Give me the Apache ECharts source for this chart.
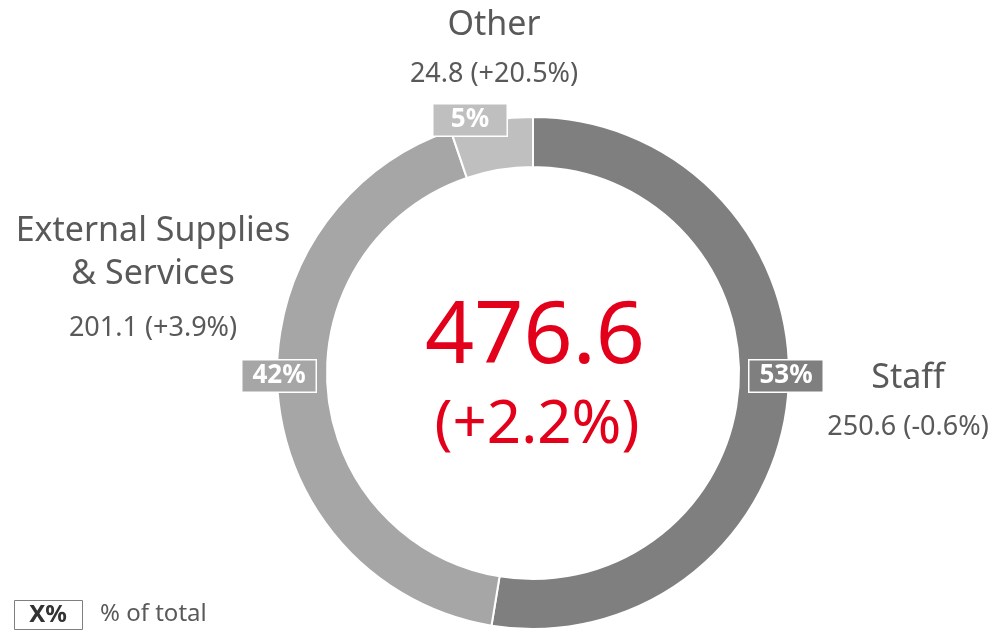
<!DOCTYPE html>
<html>
<head>
<meta charset="utf-8">
<script src="https://cdn.jsdelivr.net/npm/echarts@6/dist/echarts.min.js"></script>
<style>
  html, body { margin: 0; padding: 0; background: #fff; }
  #chart { width: 997px; height: 631px; }
</style>
</head>
<body>
<div id="chart"></div>
<script>
const categories = ['Staff', 'External Supplies\n& Services', 'Other']
const values = [250.6, 201.1, 24.8]
const changes = ['-0.6%', '+3.9%', '+20.5%']
const colors = ['#7f7f7f', '#a6a6a6', '#bfbfbf']
const total = '476.6'
const totalChange = '+2.2%'

const font = 'Noto Sans'
const textGrey = '#595959'
const red = '#e2001a'

// where the % boxes and the name blocks sit
const boxPos = [[786, 376], [279, 376], [470, 120]]
const namePos = [[908, 378], [153, 253], [494, 25]]
const valuePos = [[908, 427], [153, 328], [494, 74]]

const chart = echarts.init(document.getElementById('chart'))

const graphics = []
categories.forEach((name, i) => {
  graphics.push({
    type: 'text',
    x: namePos[i][0],
    y: namePos[i][1],
    style: {
      text: name,
      fill: textGrey,
      font: '34px "' + font + '"',
      align: 'center',
      verticalAlign: 'middle',
      lineHeight: 43
    }
  })
  graphics.push({
    type: 'text',
    x: valuePos[i][0],
    y: valuePos[i][1],
    style: {
      text: values[i].toFixed(1) + ' (' + changes[i] + ')',
      fill: textGrey,
      font: '27px "' + font + '"',
      align: 'center',
      verticalAlign: 'middle'
    }
  })
})

graphics.push(
  {
    type: 'text', x: 535, y: 338,
    style: { text: total, fill: red, font: '86px "' + font + '"', align: 'center', verticalAlign: 'middle' }
  },
  {
    type: 'text', x: 537, y: 426,
    style: { text: '(' + totalChange + ')', fill: red, font: '60px "' + font + '"', align: 'center', verticalAlign: 'middle' }
  },
  {
    type: 'rect',
    shape: { x: 14.5, y: 600.5, width: 68, height: 29 },
    style: { fill: '#fff', stroke: '#7f7f7f', lineWidth: 1 }
  },
  {
    type: 'text', x: 48, y: 615,
    style: { text: 'X%', fill: '#333', font: 'bold 24px "' + font + '"', align: 'center', verticalAlign: 'middle' }
  },
  {
    type: 'text', x: 100, y: 614,
    style: { text: '% of total', fill: textGrey, font: '24px "' + font + '"', align: 'left', verticalAlign: 'middle' }
  }
)

chart.setOption({
  animation: false,
  series: [{
    type: 'pie',
    center: [533, 373],
    radius: [206, 256],
    startAngle: 90,
    clockwise: true,
    silent: true,
    itemStyle: { borderColor: '#fff', borderWidth: 2 },
    label: {
      show: true,
      position: 'inside',
      formatter: p => Math.round(p.percent) + '%',
      color: '#fff',
      fontFamily: font,
      fontWeight: 'bold',
      fontSize: 26,
      align: 'center',
      width: 73,
      height: 31,
      lineHeight: 31,
      padding: 0,
      borderColor: '#fff',
      borderWidth: 1.5
    },
    labelLine: { show: false },
    labelLayout: p => ({ x: boxPos[p.dataIndex][0], y: boxPos[p.dataIndex][1], align: 'center', verticalAlign: 'middle' }),
    data: categories.map((name, i) => ({
      name,
      value: values[i],
      itemStyle: { color: colors[i] },
      label: { backgroundColor: colors[i] }
    }))
  }],
  graphic: graphics
})
</script>
</body>
</html>
